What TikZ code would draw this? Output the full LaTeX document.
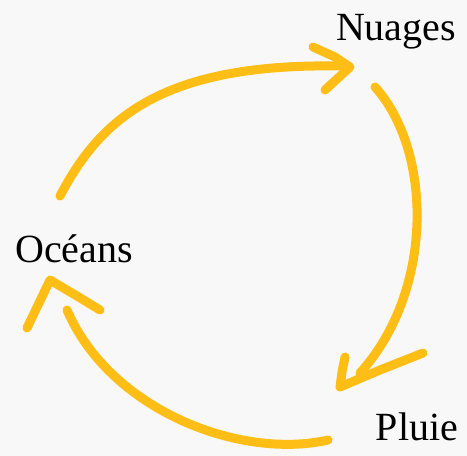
\documentclass[tikz,border=0pt]{standalone}
\usepackage{fontspec}
\setmainfont{Liberation Serif}
\definecolor{paper}{RGB}{248,248,248}
\definecolor{stroke}{RGB}{255,190,22}
\tikzset{
  label/.style={font=\fontsize{40}{44}\selectfont, text=black, inner sep=0pt, anchor=base},
  pen/.style={draw=stroke, line width=9pt, line cap=round, line join=round}
}
\begin{document}
\begin{tikzpicture}[x=1pt,y=-1pt]
\fill[paper] (0,0) rectangle (467,456);
\useasboundingbox (0,0) rectangle (467,456);
\node[label] (nuages) at (396,40) {Nuages};
\node[label] (oceans) at (74,262) {Océans};
\node[label] (pluie) at (417,440) {Pluie};
% arrow oceans -> nuages
\coordinate (a1s) at (60,196);
\coordinate (a1e) at (340,66);
\coordinate (a1t) at (350,67);
\draw[pen] (a1s) .. controls (100,120) and (160,63) .. (a1e);
\draw[pen] (313,47) -- (335,57) -- (a1t) -- (338,78) -- (325,90);
% arrow nuages -> pluie
\coordinate (a2s) at (375,87);
\coordinate (a2e) at (360,373);
\coordinate (a2t) at (340,387);
\draw[pen] (a2s) .. controls (432,150) and (435,290) .. (a2e);
\draw[pen] (345,357) -- (342,372) -- (a2t) -- (380,370) -- (423,353);
% arrow pluie -> oceans
\coordinate (a3s) at (328,440);
\coordinate (a3e) at (67,310);
\coordinate (a3t) at (50,280);
\draw[pen] (a3s) .. controls (240,460) and (110,410) .. (a3e);
\draw[pen] (27,328) -- (a3t) -- (77,296) -- (100,310);
\end{tikzpicture}
\end{document}
